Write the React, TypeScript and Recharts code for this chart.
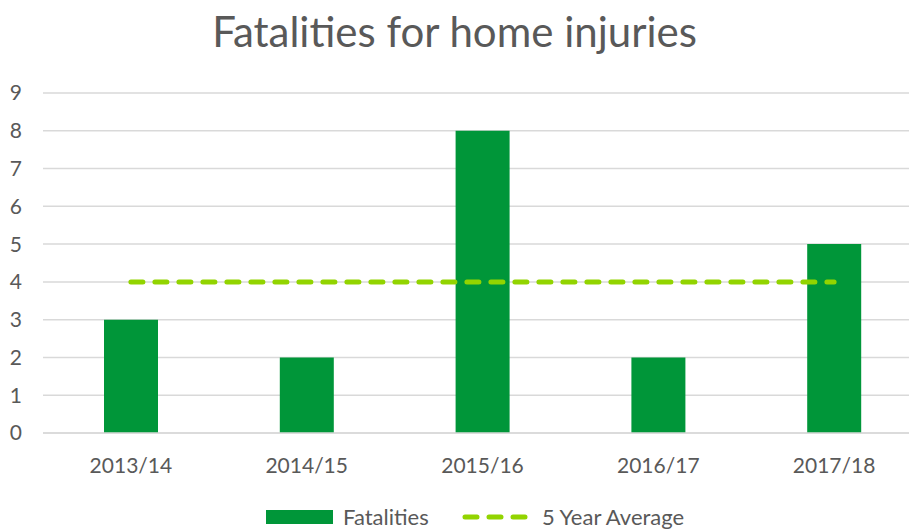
import React from 'react';
import { ComposedChart, Bar, Line, XAxis, YAxis, CartesianGrid, Legend } from 'recharts';

const categories = ['2013/14', '2014/15', '2015/16', '2016/17', '2017/18'];
const fatalities = [3, 2, 8, 2, 5];
const fiveYearAverage = [4, 4, 4, 4, 4];
const yTicks = [0, 1, 2, 3, 4, 5, 6, 7, 8, 9];

const data = categories.map((c, i) => ({ year: c, fatalities: fatalities[i], avg: fiveYearAverage[i] }));

const FONT = 'Lato, "Open Sans", sans-serif';
const TEXT = '#595959';
const BAR = '#009639';
const LINE = '#92D400';

const LegendContent = () => (
  <div style={{ display: 'flex', alignItems: 'center', height: 27, fontFamily: FONT, fontSize: 22, color: TEXT, whiteSpace: 'nowrap' }}>
    <svg width={67} height={14} style={{ marginRight: 10, flex: 'none' }}>
      <rect x={0} y={0} width={67} height={14} fill={BAR} />
    </svg>
    <span style={{ display: 'inline-block', width: 119 }}>Fatalities</span>
    <svg width={68} height={10} style={{ marginRight: 12, flex: 'none' }}>
      <line x1={3} y1={5} x2={65} y2={5} stroke={LINE} strokeWidth={5} strokeDasharray="12 12" strokeLinecap="round" />
    </svg>
    <span>5 Year Average</span>
  </div>
);

export default function App() {
  return (
    <div style={{ position: 'fixed', left: 0, top: 0, width: 909, height: 530, overflow: 'hidden', background: '#fff' }}>
      <div style={{ position: 'absolute', left: 0, top: 6, width: 909, textAlign: 'center', fontFamily: FONT, fontSize: 42, lineHeight: 1.2, color: TEXT }}>
        Fatalities for home injuries
      </div>
      <ComposedChart
        width={930}
        height={530}
        data={data}
        margin={{ top: 93, right: 8, left: 0, bottom: 0 }}
      >
        <CartesianGrid vertical={false} stroke="#d9d9d9" strokeWidth={1.5} />
        <XAxis
          dataKey="year"
          height={70}
          tickLine={false}
          axisLine={{ stroke: '#d9d9d9', strokeWidth: 1.5 }}
          tickSize={0}
          tickMargin={25}
          tick={{ fill: TEXT, fontSize: 21, fontFamily: FONT }}
          interval={0}
        />
        <YAxis
          width={43}
          domain={[0, 9]}
          ticks={yTicks}
          interval={0}
          axisLine={false}
          tickLine={false}
          tickSize={0}
          tickMargin={21}
          tick={{ fill: TEXT, fontSize: 21, fontFamily: FONT }}
        />
        <Bar dataKey="fatalities" fill={BAR} barSize={54} isAnimationActive={false} />
        <Line
          dataKey="avg"
          stroke={LINE}
          strokeWidth={5}
          strokeDasharray="12 12"
          strokeLinecap="round"
          dot={false}
          activeDot={false}
          isAnimationActive={false}
        />
        <Legend
          verticalAlign="bottom"
          content={LegendContent}
          wrapperStyle={{ left: 266, width: 500 }}
        />
      </ComposedChart>
    </div>
  );
}
